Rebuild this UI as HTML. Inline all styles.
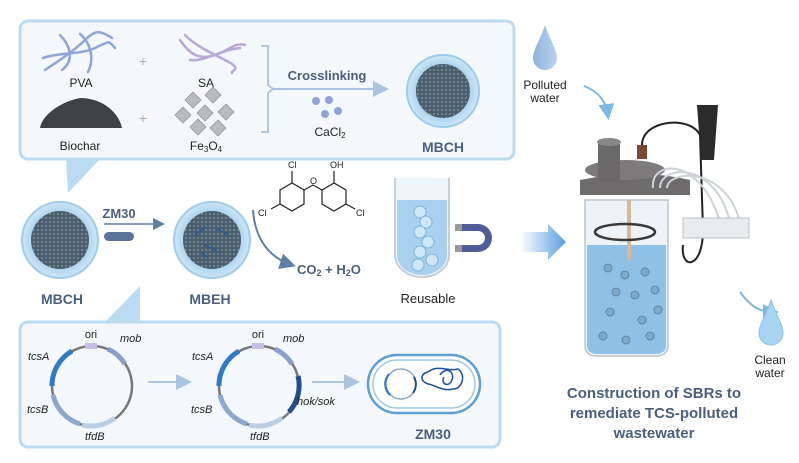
<!DOCTYPE html>
<html><head><meta charset="utf-8"><style>
body{margin:0;background:#fff}
svg{display:block;font-family:"Liberation Sans",Arial,sans-serif}
</style></head><body>
<svg width="799" height="463" viewBox="0 0 799 463">
<defs>
<radialGradient id="bead" cx="50%" cy="50%" r="50%"><stop offset="0.7" stop-color="#4d6170"/><stop offset="0.72" stop-color="#a9d2ee"/><stop offset="1" stop-color="#cfe7f7"/></radialGradient>
<pattern id="dots" width="4" height="4" patternUnits="userSpaceOnUse"><rect width="4" height="4" fill="#4a5d6b"/><circle cx="2" cy="2" r="1.1" fill="#6f8593"/></pattern>
<linearGradient id="big" x1="0" x2="1"><stop offset="0" stop-color="#fff"/><stop offset="1" stop-color="#5b9fe0"/></linearGradient>
<linearGradient id="drop" x1="0" x2="1"><stop offset="0" stop-color="#8fb3dd"/><stop offset="1" stop-color="#b9d2ee"/></linearGradient>
<marker id="ah" markerWidth="8" markerHeight="8" refX="6" refY="4" orient="auto"><path d="M0,0 L8,4 L0,8z" fill="#a9c4e0"/></marker>
<marker id="ab" markerWidth="8" markerHeight="8" refX="6" refY="4" orient="auto"><path d="M0,0 L8,4 L0,8z" fill="#7fb8e0"/></marker>
<marker id="ag" markerWidth="8" markerHeight="8" refX="6" refY="4" orient="auto"><path d="M0,0 L8,4 L0,8z" fill="#5d7fa3"/></marker>
</defs>

<rect x="20" y="21" width="494" height="138" rx="8" fill="#f4f8fc" stroke="#b9dcf2" stroke-width="3"/>
<path d="M66,159 L100,159 L68,193 Z" fill="#b9dcf2"/>
<g fill="none" stroke="#8fa5d6" stroke-width="2.5" stroke-linecap="round">
<path d="M45,70 C60,60 75,50 85,40 S100,30 112,38"/><path d="M43,58 C60,52 80,55 95,48 S108,40 115,48"/><path d="M60,35 C70,45 75,60 62,70"/><path d="M80,34 C90,42 95,58 88,72"/></g>
<text x="81" y="87" font-size="12" text-anchor="middle" fill="#222">PVA</text>
<text x="143" y="66" font-size="14" text-anchor="middle" fill="#aab">+</text>
<g fill="none" stroke="#b9a9d8" stroke-width="2.5" stroke-linecap="round">
<path d="M180,40 C190,55 200,60 215,55 S235,42 245,45"/><path d="M185,35 C195,45 205,50 225,60 S230,70 232,73"/><path d="M190,60 C205,62 220,50 240,48"/></g>
<text x="206" y="87" font-size="12" text-anchor="middle" fill="#222">SA</text>
<path d="M40,128 C42,115 60,102 80,98 C100,98 118,110 122,128 Z" fill="#3f4245"/>
<text x="80" y="150" font-size="12" text-anchor="middle" fill="#222">Biochar</text>
<text x="143" y="123" font-size="14" text-anchor="middle" fill="#aab">+</text>
<g fill="#b8bcc2" stroke="#8a8f96" stroke-width="0.7">
<path d="M185,100 l8,-8 l8,8 l-8,8z"/><path d="M205,95 l8,-8 l8,8 l-8,8z"/><path d="M197,113 l8,-8 l8,8 l-8,8z"/><path d="M218,112 l8,-8 l8,8 l-8,8z"/><path d="M175,115 l8,-8 l8,8 l-8,8z"/><path d="M190,127 l8,-8 l8,8 l-8,8z"/><path d="M210,128 l8,-8 l8,8 l-8,8z"/></g>
<text x="206" y="150" font-size="12" text-anchor="middle" fill="#222">Fe<tspan font-size="8" dy="2">3</tspan><tspan dy="-2">O</tspan><tspan font-size="8" dy="2">4</tspan></text>
<path d="M261,46 L268,46 L268,85 L273,89 L268,93 L268,132 L261,132" fill="none" stroke="#b3c6dd" stroke-width="2"/>
<line x1="273" y1="89" x2="385" y2="89" stroke="#a9c4e0" stroke-width="2" marker-end="url(#ah)"/>
<text x="327" y="80" font-size="13" font-weight="bold" text-anchor="middle" fill="#4a5e7f">Crosslinking</text>
<g fill="#8fa3d6"><circle cx="316" cy="101" r="4"/><circle cx="329" cy="100" r="4"/><circle cx="325" cy="114" r="4"/><circle cx="338" cy="111" r="4"/></g>
<text x="330" y="136" font-size="12" text-anchor="middle" fill="#222">CaCl<tspan font-size="8" dy="2">2</tspan></text>
<circle cx="443" cy="91" r="36" fill="url(#bead)" stroke="#9ccbeb" stroke-width="2"/>
<circle cx="443" cy="91" r="27" fill="url(#dots)"/>
<text x="443" y="152" font-size="14" font-weight="bold" text-anchor="middle" fill="#4a5e7f">MBCH</text>

<circle cx="60" cy="240" r="38" fill="url(#bead)" stroke="#9ccbeb" stroke-width="2"/>
<circle cx="60" cy="240" r="29" fill="url(#dots)"/>
<text x="62" y="304" font-size="14" font-weight="bold" text-anchor="middle" fill="#4a5e7f">MBCH</text>
<text x="119" y="218" font-size="13" font-weight="bold" text-anchor="middle" fill="#4a5e7f">ZM30</text>
<line x1="104" y1="224" x2="162" y2="224" stroke="#5d7fa3" stroke-width="1.5" marker-end="url(#ag)"/>
<rect x="104" y="232" width="30" height="9" rx="4.5" fill="#5c7497"/>
<circle cx="212" cy="240" r="38" fill="url(#bead)" stroke="#9ccbeb" stroke-width="2"/>
<circle cx="212" cy="240" r="29" fill="url(#dots)"/>
<g stroke="#2f5c8f" stroke-width="2" fill="none"><path d="M195,235 l10,-8"/><path d="M205,245 l12,6"/><path d="M215,228 l12,6"/><path d="M200,252 l8,6"/></g>
<text x="210" y="304" font-size="14" font-weight="bold" text-anchor="middle" fill="#4a5e7f">MBEH</text>
<g fill="none" stroke="#222" stroke-width="1.2">
<path d="M280,190 l12,-7 l12,7 l0,14 l-12,7 l-12,-7z"/><path d="M322,190 l12,-7 l12,7 l0,14 l-12,7 l-12,-7z"/>
<path d="M304,190 l9,-5 l9,5"/><path d="M292,183 l0,-12"/><path d="M334,183 l0,-12"/><path d="M280,204 l-9,5"/><path d="M346,204 l9,5"/></g>
<g font-size="9" fill="#222"><text x="288" y="168">Cl</text><text x="330" y="168">OH</text><text x="310" y="184">O</text><text x="258" y="216">Cl</text><text x="356" y="216">Cl</text></g>
<path d="M253,210 C255,240 270,258 292,265" fill="none" stroke="#5d7fa3" stroke-width="2" marker-end="url(#ag)"/>
<text x="297" y="274" font-size="13" font-weight="bold" fill="#4a5e7f">CO<tspan font-size="9" dy="2">2</tspan><tspan dy="-2"> + H</tspan><tspan font-size="9" dy="2">2</tspan><tspan dy="-2">O</tspan></text>
<path d="M395,178 L395,255 A27,22 0 0 0 449,255 L449,178" fill="#eef5fb" stroke="#c6cfd8" stroke-width="2"/>
<path d="M397,200 L397,255 A25,20 0 0 0 447,255 L447,200 Z" fill="#a7d1ef"/>
<g fill="#cfe6f7" stroke="#7fb3dc"><circle cx="420" cy="212" r="6"/><circle cx="426" cy="222" r="6"/><circle cx="420" cy="232" r="6"/><circle cx="428" cy="242" r="6"/><circle cx="420" cy="252" r="6"/><circle cx="432" cy="260" r="6"/><circle cx="418" cy="265" r="6"/></g>
<path d="M460,224 L478,224 A14,14 0 0 1 478,252 L460,252 L460,245 L478,245 A7,7 0 0 0 478,231 L460,231 Z" fill="#4f5e99"/>
<rect x="455" y="224" width="7" height="7" fill="#999"/><rect x="455" y="245" width="7" height="7" fill="#999"/>
<text x="428" y="303" font-size="13" text-anchor="middle" fill="#222">Reusable</text>
<path d="M520,232 L548,232 L548,224 L566,242 L548,260 L548,252 L520,252 Z" fill="url(#big)"/>

<path d="M105,322 L140,286 L140,322 Z" fill="#b9dcf2"/>
<rect x="20" y="322" width="480" height="125" rx="8" fill="#f4f8fc" stroke="#b9dcf2" stroke-width="3"/>
<g fill="none" stroke-width="2.5">
<circle cx="92" cy="386" r="40" stroke="#777"/>
<path d="M72,351 A40,40 0 0 0 52,386" stroke="#2e7bc4" stroke-width="5"/>
<path d="M53,395 A40,40 0 0 0 80,424" stroke="#8aa9cc" stroke-width="5"/>
<path d="M82,425 A40,40 0 0 0 115,418" stroke="#b9cfe4" stroke-width="5"/>
<path d="M108,349 A40,40 0 0 1 125,364" stroke="#8a9fd0" stroke-width="5"/>
<circle cx="259" cy="386" r="40" stroke="#777"/>
<path d="M239,351 A40,40 0 0 0 219,386" stroke="#2e7bc4" stroke-width="5"/>
<path d="M220,395 A40,40 0 0 0 247,424" stroke="#8aa9cc" stroke-width="5"/>
<path d="M249,425 A40,40 0 0 0 282,418" stroke="#b9cfe4" stroke-width="5"/>
<path d="M275,349 A40,40 0 0 1 292,364" stroke="#8a9fd0" stroke-width="5"/>
<path d="M298,376 A40,40 0 0 1 289,412" stroke="#1f4f86" stroke-width="5"/>
</g>
<rect x="85" y="343" width="12" height="6" fill="#c8c0e4"/><rect x="252" y="343" width="12" height="6" fill="#c8c0e4"/>
<g font-size="11" fill="#222" font-style="italic">
<text x="91" y="338" font-style="normal" text-anchor="middle">ori</text><text x="120" y="342">mob</text><text x="28" y="360">tcsA</text><text x="27" y="413">tcsB</text><text x="85" y="440">tfdB</text>
<text x="258" y="338" font-style="normal" text-anchor="middle">ori</text><text x="283" y="342">mob</text><text x="192" y="360">tcsA</text><text x="191" y="413">tcsB</text><text x="250" y="440">tfdB</text><text x="297" y="405">hok/sok</text></g>
<line x1="148" y1="382" x2="188" y2="382" stroke="#a9c4e0" stroke-width="2" marker-end="url(#ah)"/>
<line x1="312" y1="382" x2="356" y2="382" stroke="#a9c4e0" stroke-width="2" marker-end="url(#ah)"/>
<rect x="368" y="355" width="112" height="58" rx="29" fill="#fff" stroke="#5b9fd5" stroke-width="2.5"/>
<rect x="373" y="360" width="102" height="48" rx="24" fill="none" stroke="#9cc7e8" stroke-width="1.5"/>
<circle cx="401" cy="384" r="15" fill="none" stroke="#8aa9cc" stroke-width="1.5"/>
<path d="M389,374 A15,15 0 0 0 390,395" fill="none" stroke="#2e7bc4" stroke-width="2"/>
<path d="M414,377 A15,15 0 0 1 413,393" fill="none" stroke="#1f4f86" stroke-width="2"/>
<path d="M428,372 c10,-8 20,0 30,-3 c8,5 5,20 -5,20 c-10,3 -20,-5 -25,-5 c-8,-3 -8,-10 0,-12 M440,375 c5,-8 15,-5 12,5 c-3,8 -12,4 -8,-3" fill="none" stroke="#1f4f96" stroke-width="1.5"/>
<text x="433" y="439" font-size="14" font-weight="bold" text-anchor="middle" fill="#4a5e7f">ZM30</text>

<path d="M545,25 C540,40 533,50 533,58 A12,12 0 0 0 557,58 C557,50 550,40 545,25 Z" fill="url(#drop)"/>
<text x="545" y="89" font-size="12" text-anchor="middle" fill="#222">Polluted</text>
<text x="545" y="102" font-size="12" text-anchor="middle" fill="#222">water</text>
<path d="M584,86 C600,92 606,102 608,116" fill="none" stroke="#7fb8e0" stroke-width="2" marker-end="url(#ab)"/>
<path d="M585,200 L585,345 Q585,356 597,356 L656,356 Q668,356 668,345 L668,200 Z" fill="#eef3f8" stroke="#b8c4cf" stroke-width="1.5"/>
<path d="M587,245 L666,245 L666,345 Q666,354 655,354 L598,354 Q587,354 587,345 Z" fill="#8fc0e6"/>
<g fill="#7fa9c9" stroke="#4e7fa6" stroke-width="0.8"><circle cx="608" cy="268" r="4"/><circle cx="625" cy="275" r="4"/><circle cx="645" cy="272" r="4"/><circle cx="616" cy="292" r="4"/><circle cx="635" cy="295" r="4"/><circle cx="655" cy="290" r="4"/><circle cx="610" cy="312" r="4"/><circle cx="642" cy="320" r="4"/><circle cx="658" cy="310" r="4"/><circle cx="603" cy="336" r="4"/><circle cx="626" cy="340" r="4"/><circle cx="650" cy="336" r="4"/></g>
<rect x="627" y="200" width="4" height="60" fill="#d8b79a"/>
<ellipse cx="625" cy="232" rx="30" ry="8" fill="none" stroke="#3c3a38" stroke-width="2.5"/>
<path d="M580,180 L580,195 L690,195 L690,180 Q640,168 580,180 Z" fill="#6d6b6b"/>
<ellipse cx="625" cy="170" rx="40" ry="10" fill="#7c7a7a"/>
<rect x="598" y="142" width="22" height="40" fill="#6a6868"/><ellipse cx="609" cy="142" rx="12" ry="4" fill="#888"/>
<rect x="637" y="145" width="10" height="14" fill="#7a4a30"/>
<path d="M642,145 C642,120 690,115 700,135 L703,230 C703,270 680,270 683,245" fill="none" stroke="#222" stroke-width="2"/>
<path d="M697,105 L718,105 L714,160 L701,160 Z" fill="#2b2b2b"/>
<g fill="none" stroke="#cdd3d8" stroke-width="2"><path d="M653,188 C650,160 700,155 720,222"/><path d="M660,188 C660,165 715,160 730,222"/><path d="M667,188 C668,170 725,165 740,222"/></g>
<rect x="683" y="218" width="66" height="20" fill="#e8ecef" stroke="#b8c0c6"/>
<path d="M740,292 C752,308 760,312 775,312" fill="none" stroke="#7fb8e0" stroke-width="2" marker-end="url(#ab)"/>
<path d="M771,300 C766,315 759,325 759,333 A12,12 0 0 0 783,333 C783,325 776,315 771,300 Z" fill="#a9d4f2" stroke="#8cc0e6"/>
<text x="770" y="364" font-size="12" text-anchor="middle" fill="#222">Clean</text>
<text x="770" y="377" font-size="12" text-anchor="middle" fill="#222">water</text>
<g font-size="15" font-weight="bold" fill="#4a5e7f" text-anchor="middle">
<text x="654" y="398">Construction of SBRs to</text>
<text x="654" y="418">remediate TCS-polluted</text>
<text x="654" y="438">wastewater</text></g>
</svg>
</body></html>
